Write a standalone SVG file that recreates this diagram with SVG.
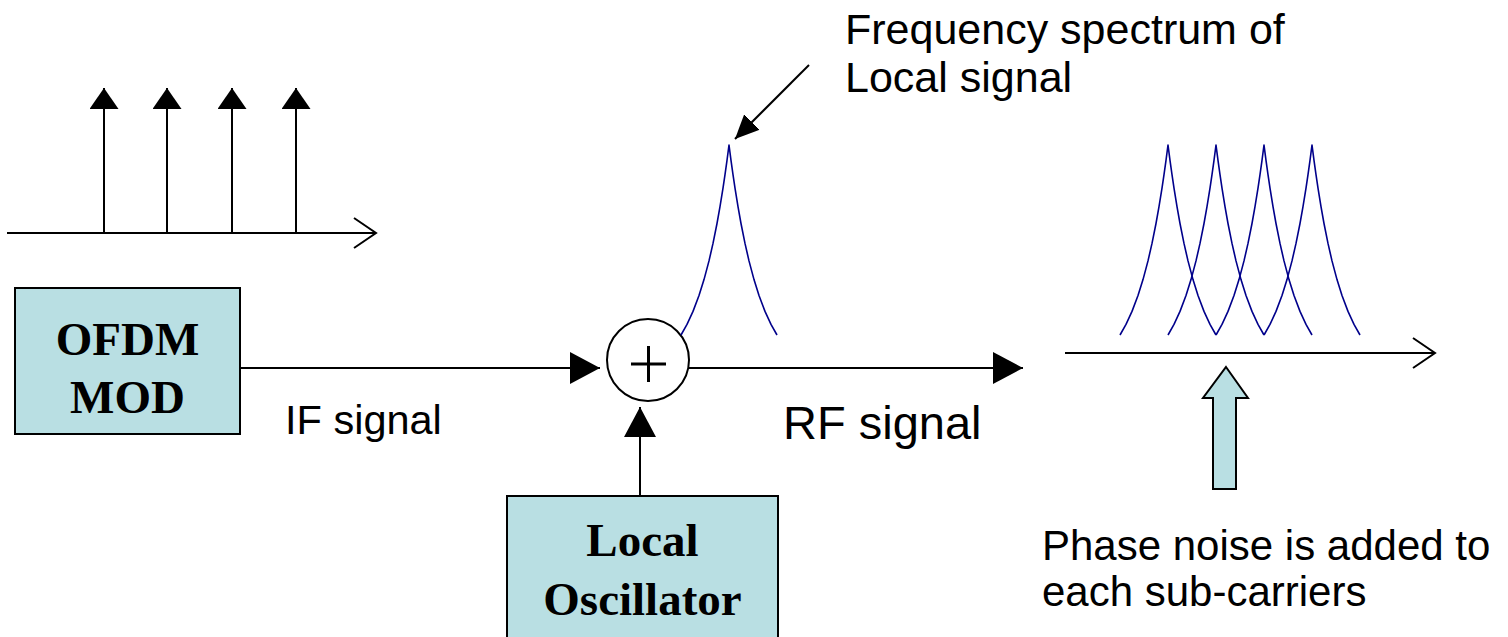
<svg xmlns="http://www.w3.org/2000/svg" xmlns:xlink="http://www.w3.org/1999/xlink" width="1508" height="637" viewBox="0 0 1508 637">
<style>
.ln{stroke:#000;stroke-width:2;fill:none}
.box{fill:#B9DFE3;stroke:#000;stroke-width:2}
.peak{stroke:#00008B;stroke-width:1.6;fill:none;stroke-linejoin:round}
.lbl{font-family:"Liberation Sans",Arial,sans-serif;fill:#000}
.bt{font-family:"Liberation Serif","Times New Roman",serif;font-weight:bold;font-size:47px;fill:#000;text-anchor:middle}
</style>
<defs>
<marker id="tri" markerUnits="userSpaceOnUse" viewBox="0 0 30 32" refX="30" refY="16" markerWidth="30" markerHeight="32" orient="auto">
<path d="M0,0 L30,16 L0,32 Z" fill="#000"/>
</marker>
<marker id="stem" markerUnits="userSpaceOnUse" viewBox="0 0 21 29" refX="21" refY="14.5" markerWidth="21" markerHeight="29" orient="auto">
<path d="M0,0 L21,14.5 L0,29 Z" fill="#000"/>
</marker>
<marker id="ptr" markerUnits="userSpaceOnUse" viewBox="0 0 24 22" refX="24" refY="11" markerWidth="24" markerHeight="22" orient="auto">
<path d="M0,0 L24,11 L0,22 Z" fill="#000"/>
</marker>
<path id="pk" class="peak" d="M-48,190 L-42,179.4 L-36,166.4 L-30,150.5 L-25,134.6 L-20,115.9 L-16,98.4 L-12,78.5 L-9,61.7 L-6,43.2 L-4,29.7 L-2,15.4 L0,0 L2,15.4 L4,29.7 L6,43.2 L9,61.7 L12,78.5 L16,98.4 L20,115.9 L25,134.6 L30,150.5 L36,166.4 L42,179.4 L48,190"/>
</defs>

<g id="if-spectrum">
<path class="ln" d="M7,233 L376,233 M354,218 L376,233 L354,248"/>
<line class="ln" x1="104" y1="233" x2="104" y2="88" marker-end="url(#stem)"/>
<line class="ln" x1="167" y1="233" x2="167" y2="88" marker-end="url(#stem)"/>
<line class="ln" x1="232" y1="233" x2="232" y2="88" marker-end="url(#stem)"/>
<line class="ln" x1="296" y1="233" x2="296" y2="88" marker-end="url(#stem)"/>
</g>

<g id="connectors">
<line class="ln" x1="240" y1="368" x2="600" y2="368" marker-end="url(#tri)"/>
<line class="ln" x1="689" y1="368" x2="1023" y2="368" marker-end="url(#tri)"/>
<line class="ln" x1="640" y1="496" x2="640" y2="407" marker-end="url(#tri)"/>
<line class="ln" x1="809" y1="65" x2="735" y2="139" marker-end="url(#ptr)"/>
</g>

<g id="ofdm-mod">
<rect class="box" x="15" y="288" width="225" height="146"/>
<text class="bt" x="127.5" y="355">OFDM</text>
<text class="bt" x="127.5" y="413">MOD</text>
</g>

<g id="mixer">
<circle cx="648" cy="360" r="41" fill="#fff" stroke="#000" stroke-width="2"/>
<path d="M631,364 L666,364 M648.5,346 L648.5,382" stroke="#000" stroke-width="3" fill="none"/>
</g>

<g id="local-oscillator">
<rect class="box" x="507" y="496" width="271" height="150"/>
<text class="bt" x="642.5" y="556">Local</text>
<text class="bt" x="642.5" y="615">Oscillator</text>
</g>

<g id="local-spectrum">
<use xlink:href="#pk" href="#pk" transform="translate(729,145)"/>
</g>

<g id="rf-spectrum">
<use xlink:href="#pk" href="#pk" transform="translate(1168,145)"/>
<use xlink:href="#pk" href="#pk" transform="translate(1216,145)"/>
<use xlink:href="#pk" href="#pk" transform="translate(1264,145)"/>
<use xlink:href="#pk" href="#pk" transform="translate(1312,145)"/>
<path class="ln" d="M1065,353 L1435,353 M1413,338 L1435,353 L1413,368"/>
</g>

<g id="phase-noise-arrow">
<polygon points="1226,367 1248,398 1236,398 1236,489 1213,489 1213,398 1203,398" fill="#B9DFE3" stroke="#000" stroke-width="2" stroke-linejoin="miter"/>
</g>

<g id="labels">
<text class="lbl" x="845" y="44" font-size="43">Frequency spectrum of</text>
<text class="lbl" x="845" y="92" font-size="43">Local signal</text>
<text class="lbl" x="285" y="434" font-size="41.5">IF signal</text>
<text class="lbl" x="783" y="439" font-size="47">RF signal</text>
<text class="lbl" x="1042" y="560" font-size="42">Phase noise is added to</text>
<text class="lbl" x="1042" y="606" font-size="42">each sub-carriers</text>
</g>
</svg>
